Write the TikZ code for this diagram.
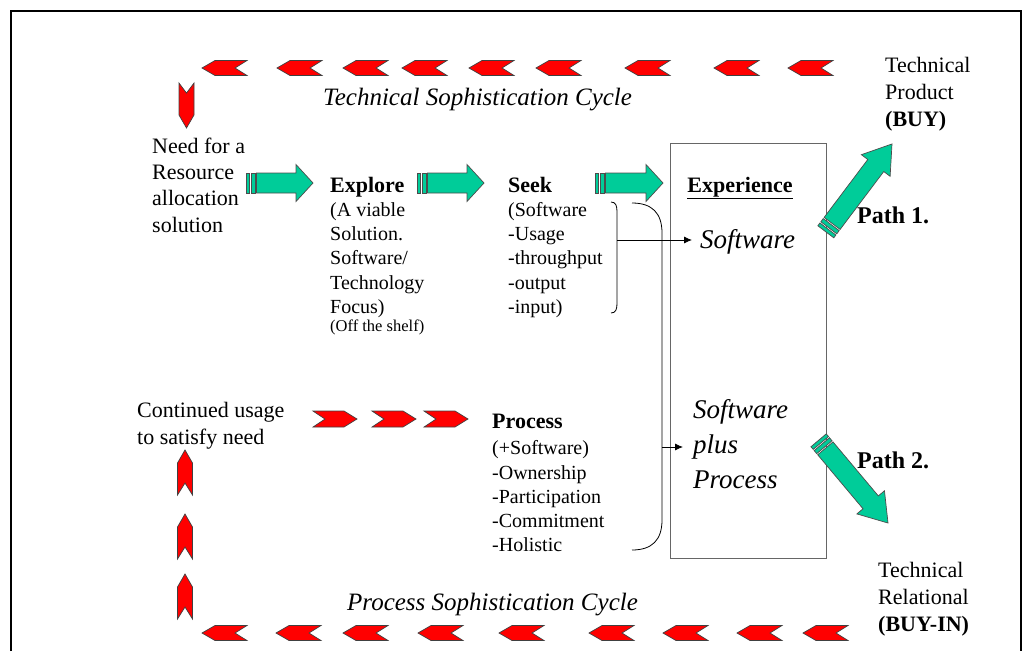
\documentclass[tikz,border=0pt]{standalone}
\usepackage{fontspec}
\setmainfont{Liberation Serif}
\usetikzlibrary{arrows.meta}
\definecolor{agreen}{RGB}{0,204,153}
\definecolor{cred}{RGB}{255,0,0}
\tikzset{
  chev/.style={fill=cred, draw=black!75, line width=0.7pt, line join=miter},
  garr/.style={fill=agreen, draw=black!70, line width=0.7pt},
  txt/.style={inner sep=0pt, align=left},
  conn/.style={line width=0.8pt, -{Latex[length=8pt,width=7pt]}},
  brk/.style={line width=0.8pt},
  hfont/.style={font=\bfseries\fontsize{22}{26.3}\selectfont},
  lfont/.style={font=\fontsize{20}{24.3}\selectfont},
  cyc/.style={font=\itshape\fontsize{25}{30}\selectfont},
}
% left-pointing chevron: left x, centre y
\newcommand\chevL[2]{\draw[chev] (#1,#2) -- ++(13,-7.5) -- ++(32,0) -- ++(-12,7.5) -- ++(12,7.5) -- ++(-32,0) -- cycle;}
% right-pointing chevron: left x, centre y
\newcommand\chevR[2]{\draw[chev] (#1,#2-8) -- ++(31,0) -- ++(13,8) -- ++(-13,8) -- ++(-31,0) -- ++(12,-8) -- cycle;}
% up-pointing chevron: centre x, top y
\newcommand\chevU[2]{\draw[chev] (#1,#2) -- ++(7.5,13) -- ++(0,32) -- ++(-7.5,-12) -- ++(-7.5,12) -- ++(0,-32) -- cycle;}
% down-pointing chevron: centre x, top y
\newcommand\chevD[2]{\draw[chev] (#1-7.5,#2) -- ++(7.5,10) -- ++(7.5,-10) -- ++(0,32) -- ++(-7.5,13) -- ++(-7.5,-13) -- cycle;}
% green block arrow: tail x, tail y, angle, length, head length, head half-width
\newcommand\garrow[6]{%
\begin{scope}[shift={(#1,#2)},rotate=#3]
\draw[garr] (0,-10) rectangle (3.5,10);
\draw[garr] (5,-10) rectangle (9,10);
\draw[garr] (10.5,-10) -- (#4-#5,-10) -- (#4-#5,-#6) -- (#4,0) -- (#4-#5,#6) -- (#4-#5,10) -- (10.5,10) -- cycle;
\end{scope}}
\begin{document}
\begin{tikzpicture}[x=1pt,y=-1pt]
\useasboundingbox (0,0) rectangle (1031,651);
% frame
\draw[line width=2pt] (11,651) -- (11,11) -- (1021,11) -- (1021,651);

% experience box
\node[draw=black!60, line width=1pt, minimum width=156pt, minimum height=415pt, inner sep=0pt, anchor=north west] (box) at (670,143) {};

% top chevrons
\foreach \xx in {202,277,343,402,469,536,625,714,788} {\chevL{\xx}{68}}
% bottom chevrons
\foreach \xx in {202,276,343,418,499,589,663,737,803} {\chevL{\xx}{633}}
% down chevron
\chevD{186.5}{83}
% up chevrons
\foreach \yy in {450,514,574} {\chevU{185}{\yy}}
% right chevrons
\foreach \xx in {313,372,424} {\chevR{\xx}{419}}

% texts
\node[txt, anchor=north west, font=\fontsize{22}{26.3}\selectfont] (need) at (152,134.6) {\strut Need for a\\Resource\\allocation\\solution};
\node[anchor=base west, inner sep=0pt, hfont] (explore) at (330,192) {Explore};
\node[txt, anchor=north west, lfont] (explist) at (330,199) {\strut(A viable\\Solution.\\Software/\\Technology\\Focus)};
\node[anchor=base west, inner sep=0pt, font=\fontsize{16.5}{19}\selectfont] (shelf) at (330,331) {(Off the shelf)};
\node[anchor=base west, inner sep=0pt, hfont] (seek) at (508,192) {Seek};
\node[txt, anchor=north west, lfont] (seeklist) at (508,199) {\strut(Software\\-Usage\\-throughput\\-output\\-input)};
\node[anchor=base, inner sep=0pt, hfont] (exp) at (740,192) {\underline{Experience}};
\node[anchor=base west, inner sep=0pt, font=\itshape\fontsize{27}{35}\selectfont] (sw) at (700,248) {Software};
\node[txt, anchor=north west, font=\itshape\fontsize{27}{35}\selectfont] (spp) at (693,393.5) {\strut Software\\plus\\Process};
\node[txt, anchor=north west, font=\fontsize{22}{27}\selectfont] (tprod) at (885,53.1) {\strut Technical\\Product\\\textbf{(BUY)}};
\node[anchor=base west, inner sep=0pt, font=\bfseries\fontsize{24}{28}\selectfont] (p1) at (857,223) {Path 1.};
\node[anchor=base west, inner sep=0pt, font=\bfseries\fontsize{24}{28}\selectfont] (p2) at (857,468) {Path 2.};
\node[txt, anchor=north west, font=\fontsize{22}{27}\selectfont] (trel) at (878,558.1) {\strut Technical\\Relational\\\textbf{(BUY-IN)}};
\node[txt, anchor=north west, font=\fontsize{22}{27}\selectfont] (cont) at (137,398.1) {\strut Continued usage\\to satisfy need};
\node[anchor=base west, inner sep=0pt, hfont] (proc) at (492,428) {Process};
\node[txt, anchor=north west, lfont] (proclist) at (492,437.5) {\strut(+Software)\\-Ownership\\-Participation\\-Commitment\\-Holistic};
\node[anchor=base west, inner sep=0pt, cyc] (tsc) at (323,105) {Technical Sophistication Cycle};
\node[anchor=base west, inner sep=0pt, cyc] (psc) at (347,610) {Process Sophistication Cycle};

% green arrows
\garrow{246}{183}{0}{67}{17}{18.5}
\garrow{417}{183}{0}{67}{17}{18.5}
\garrow{595}{183}{0}{68}{17}{18.5}
\garrow{825.8}{231.8}{53}{110}{27}{18}
\garrow{818.6}{440.3}{-50}{108}{27}{18}

% brackets
\draw[brk] (611,202) .. controls (616,202) and (617,206) .. (617,212) -- (617,303) .. controls (617,309) and (616,313) .. (611,313);
\draw[brk] (632,203) .. controls (652,203) and (662,213) .. (662,233) -- (662,520) .. controls (662,540) and (652,550) .. (632,550);
\coordinate (sbm) at (617,240);
\coordinate (swin) at (692,240);
\draw[conn] (sbm) -- (swin);
\coordinate (bbm) at (662,447);
\coordinate (pin) at (683,447);
\draw[conn] (bbm) -- (pin);
\end{tikzpicture}
\end{document}
